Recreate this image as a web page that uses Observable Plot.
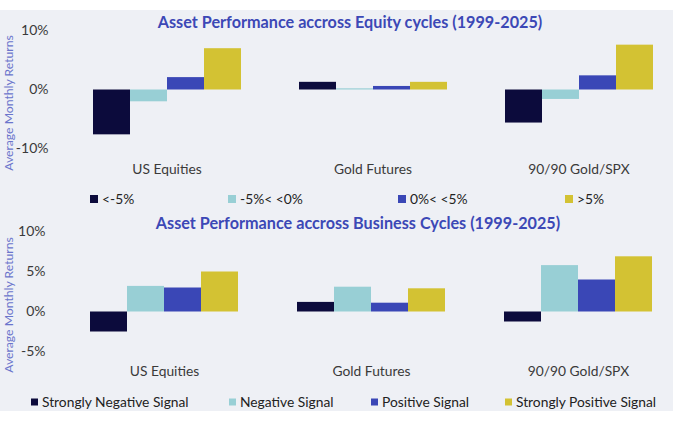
<!DOCTYPE html>
<html>
<head>
<meta charset="utf-8">
<script src="https://cdn.jsdelivr.net/npm/d3@7"></script>
<script src="https://cdn.jsdelivr.net/npm/@observablehq/plot@0.6"></script>
<style>
  body { margin: 0; background: #fff; }
  #wrap { position: relative; width: 673px; height: 421px; background: #fff; overflow: hidden; font-family: Lato, "Noto Sans", sans-serif; }
  #bg { position: absolute; left: 0; top: 10px; width: 673px; height: 401px; background: #eef0f5; }
  .panel { position: absolute; left: 0; }
  .title { position: absolute; font-weight: bold; color: #3c48b6; font-size: 16.2px; white-space: nowrap; transform: translate(-50%, -50%); }
  .ylab { position: absolute; color: #6b75cc; font-size: 12.2px; white-space: nowrap; transform: translate(-50%, -50%) rotate(-90deg); }
  .leg { position: absolute; font-size: 13.8px; color: #222; white-space: nowrap; transform: translateY(-50%); line-height: 1; }
  .sw { position: absolute; transform: translateY(-50%); }
</style>
</head>
<body>
<div id="wrap"><div id="bg"></div></div>
<script>
// ---- data ----
const assets = ["US Equities", "Gold Futures", "90/90 Gold/SPX"];

const equityBuckets = ["<-5%", "-5%< <0%", "0%< <5%", ">5%"];
const eqBelowMinus5 = [-7.6, 1.3, -5.6];
const eqMinus5To0   = [-2.0, 0.2, -1.6];
const eq0To5        = [2.1, 0.6, 2.4];
const eqAbove5      = [7.0, 1.3, 7.6];
const equityTicks = [-10, 0, 10];

const businessSignals = ["Strongly Negative Signal", "Negative Signal", "Positive Signal", "Strongly Positive Signal"];
const busStrongNeg = [-2.5, 1.2, -1.25];
const busNeg       = [3.2, 3.1, 5.8];
const busPos       = [3.0, 1.1, 4.0];
const busStrongPos = [5.0, 2.9, 6.9];
const businessTicks = [-5, 0, 5, 10];

const palette = ["#0c0b3c", "#98cfd5", "#3a47b6", "#d3c233"];

const titles = ["Asset Performance accross Equity cycles (1999-2025)", "Asset Performance accross Business Cycles (1999-2025)"];
const yLabel = "Average Monthly Returns";

function rows(series, arrays) {
  return series.flatMap((s, i) => assets.map((a, j) => ({asset: a, series: s, value: arrays[i][j]})));
}

const wrap = document.getElementById("wrap");

function panel({data, series, ticks, domain, range, marginLeft, marginBottom, tickPadding}) {
  const svg = Plot.plot({
    width: 673, height: 185,
    marginLeft, marginRight: 0, marginTop: 0, marginBottom,
    style: {background: "transparent", fontFamily: "Lato, 'Noto Sans', sans-serif", fontSize: "14px", color: "#3a3a3a"},
    fx: {domain: assets, paddingInner: 0.275, paddingOuter: 0.09, axis: "bottom", label: null, tickSize: 0, tickPadding: 4},
    x: {domain: series, padding: 0, axis: null},
    y: {domain, range, ticks, tickFormat: d => d + "%", tickSize: 0, tickPadding, label: null},
    color: {domain: series, range: palette},
    marks: [
      Plot.barY(data, {fx: "asset", x: "series", y: "value", fill: "series"})
    ]
  });
  d3.select(svg).selectAll('g[aria-label="fx-axis tick label"]').style("font-size", "13.8px");
  return svg;
}

const p1 = panel({
  data: rows(equityBuckets, [eqBelowMinus5, eqMinus5To0, eq0To5, eqAbove5]),
  series: equityBuckets, ticks: equityTicks,
  domain: [-15, 12.5], range: [89.5 + 15 * 5.9, 89.5 - 12.5 * 5.9],
  marginLeft: 72, marginBottom: 25, tickPadding: 44
});
p1.classList.add("panel"); p1.style.top = "0px";
wrap.appendChild(p1);

const p2 = panel({
  data: rows(businessSignals, [busStrongNeg, busNeg, busPos, busStrongPos]),
  series: businessSignals, ticks: businessTicks,
  domain: [-8, 12], range: [111.5 + 8 * 8, 111.5 - 12 * 8],
  marginLeft: 70, marginBottom: 23, tickPadding: 44
});
p2.classList.add("panel"); p2.style.top = "200px";
wrap.appendChild(p2);

function addDiv(cls, text, x, y, extra) {
  const d = document.createElement("div");
  d.className = cls; d.textContent = text;
  d.style.left = x + "px"; d.style.top = y + "px";
  if (extra) Object.assign(d.style, extra);
  wrap.appendChild(d);
  return d;
}

addDiv("title", titles[0], 350, 21);
addDiv("title", titles[1], 358, 222);
addDiv("ylab", yLabel, 8, 102.5);
addDiv("ylab", yLabel, 8, 305);

function legend(series, xs, y, size) {
  series.forEach((s, i) => {
    const sw = document.createElement("div");
    sw.className = "sw";
    Object.assign(sw.style, {left: xs[i] + "px", top: y + "px", width: size + "px", height: size + "px", background: palette[i]});
    wrap.appendChild(sw);
    addDiv("leg", s, xs[i] + size + 4, y);
  });
}
legend(equityBuckets, [90, 228, 398, 565], 199, 8);
legend(businessSignals, [31, 229, 371, 505], 401.5, 7);
</script>
</body>
</html>
